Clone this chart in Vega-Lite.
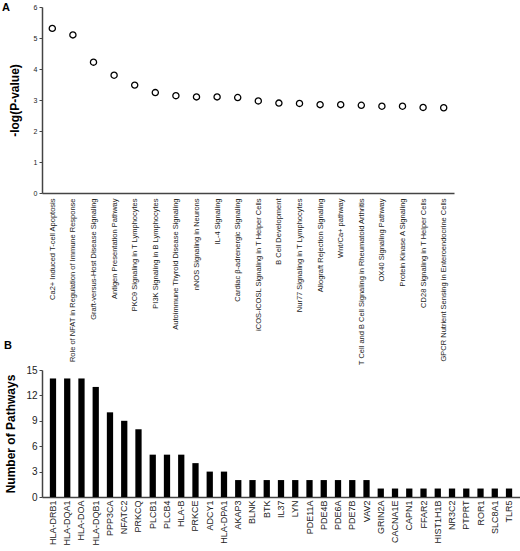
{
  "$schema": "https://vega.github.io/schema/vega-lite/v6.json",
  "padding": {"left": 2, "top": 2, "right": 0, "bottom": 0},
  "datasets": {
    "pathways": [
      {"pathway": "Ca2+ Induced T-cell Apoptosis", "logp": 5.31},
      {"pathway": "Role of NFAT in Regulation of Immune Response", "logp": 5.10},
      {"pathway": "Graft-versus-Host Disease Signaling", "logp": 4.22},
      {"pathway": "Antigen Presentation Pathway", "logp": 3.80},
      {"pathway": "PKCθ Signaling in T Lymphocytes", "logp": 3.48},
      {"pathway": "PI3K Signaling in B Lymphocytes", "logp": 3.24},
      {"pathway": "Autoimmune Thyroid Disease Signaling", "logp": 3.14},
      {"pathway": "nNOS Signaling in Neurons", "logp": 3.10},
      {"pathway": "IL-4 Signaling", "logp": 3.10},
      {"pathway": "Cardiac β-adrenergic Signaling", "logp": 3.08},
      {"pathway": "iCOS-iCOSL Signaling in T Helper Cells", "logp": 2.97},
      {"pathway": "B Cell Development", "logp": 2.90},
      {"pathway": "Nur77 Signaling in T Lymphocytes", "logp": 2.89},
      {"pathway": "Allograft Rejection Signaling", "logp": 2.85},
      {"pathway": "Wnt/Ca+ pathway", "logp": 2.85},
      {"pathway": "T Cell and B Cell Signaling in Rheumatoid Arthritis", "logp": 2.83},
      {"pathway": "OX40 Signaling Pathway", "logp": 2.80},
      {"pathway": "Protein Kinase A Signaling", "logp": 2.80},
      {"pathway": "CD28 Signaling in T  Helper Cells", "logp": 2.76},
      {"pathway": "GPCR Nutrient Sensing in Enteroendocrine Cells", "logp": 2.75}
    ],
    "genes": [
      {"gene": "HLA-DRB1", "n": 14},
      {"gene": "HLA-DQA1", "n": 14},
      {"gene": "HLA-DOA", "n": 14},
      {"gene": "HLA-DQB1", "n": 13},
      {"gene": "PPP3CA", "n": 10},
      {"gene": "NFATC2", "n": 9},
      {"gene": "PRKCQ", "n": 8},
      {"gene": "PLCB1", "n": 5},
      {"gene": "PLCB4", "n": 5},
      {"gene": "HLA-B", "n": 5},
      {"gene": "PRKCE", "n": 4},
      {"gene": "ADCY1", "n": 3},
      {"gene": "HLA-DPA1", "n": 3},
      {"gene": "AKAP3", "n": 2},
      {"gene": "BLNK", "n": 2},
      {"gene": "BTK", "n": 2},
      {"gene": "IL37", "n": 2},
      {"gene": "LYN", "n": 2},
      {"gene": "PDE11A", "n": 2},
      {"gene": "PDE4B", "n": 2},
      {"gene": "PDE6A", "n": 2},
      {"gene": "PDE7B", "n": 2},
      {"gene": "VAV2", "n": 2},
      {"gene": "GRIN2A", "n": 1},
      {"gene": "CACNA1E", "n": 1},
      {"gene": "CAPN1", "n": 1},
      {"gene": "FFAR2", "n": 1},
      {"gene": "HIST1H1B", "n": 1},
      {"gene": "NR3C2", "n": 1},
      {"gene": "PTPRT", "n": 1},
      {"gene": "ROR1", "n": 1},
      {"gene": "SLC8A1", "n": 1},
      {"gene": "TLR5", "n": 1}
    ]
  },
  "spacing": -26,
  "vconcat": [
    {
      "width": 412,
      "height": 186,
      "title": {"text": "A", "anchor": "start", "frame": "group", "dx": -40, "offset": -10, "fontSize": 11, "fontWeight": "bold"},
      "data": {"name": "pathways"},
      "mark": {"type": "point", "shape": "circle", "filled": false, "color": "black", "strokeWidth": 1.3, "size": 38, "opacity": 1},
      "encoding": {
        "x": {
          "field": "pathway", "type": "nominal", "sort": null,
          "axis": {"title": null, "labelAngle": -90, "labelFontSize": 7.5, "labelLimit": 0, "ticks": false, "labelPadding": 5}
        },
        "y": {
          "field": "logp", "type": "quantitative",
          "scale": {"domain": [0, 6]},
          "axis": {"title": "-log(P-value)", "titleFontSize": 12, "titleFontWeight": "bold", "titlePadding": 12, "values": [0, 1, 2, 3, 4, 5, 6], "labelFontSize": 7, "grid": false, "tickSize": 3}
        }
      }
    },
    {
      "width": 478,
      "height": 127,
      "title": {"text": "B", "anchor": "start", "frame": "group", "dx": -38, "offset": 14, "fontSize": 11, "fontWeight": "bold"},
      "data": {"name": "genes"},
      "mark": {"type": "bar", "color": "black"},
      "encoding": {
        "x": {
          "field": "gene", "type": "nominal", "sort": null,
          "scale": {"paddingInner": 0.56, "paddingOuter": 0.55},
          "axis": {"title": null, "labelAngle": -90, "labelFontSize": 9, "labelLimit": 0, "ticks": false, "labelPadding": 3}
        },
        "y": {
          "field": "n", "type": "quantitative",
          "scale": {"domain": [0, 15]},
          "axis": {"title": "Number of Pathways", "titleFontSize": 12, "titleFontWeight": "bold", "titlePadding": 8, "values": [0, 3, 6, 9, 12, 15], "labelFontSize": 10, "grid": false, "tickSize": 3}
        }
      }
    }
  ],
  "config": {
    "font": "Liberation Sans",
    "view": {"stroke": null},
    "axis": {"domainColor": "#444", "domainWidth": 1.5, "tickColor": "#444", "labelColor": "#222", "titleColor": "#000"}
  }
}
